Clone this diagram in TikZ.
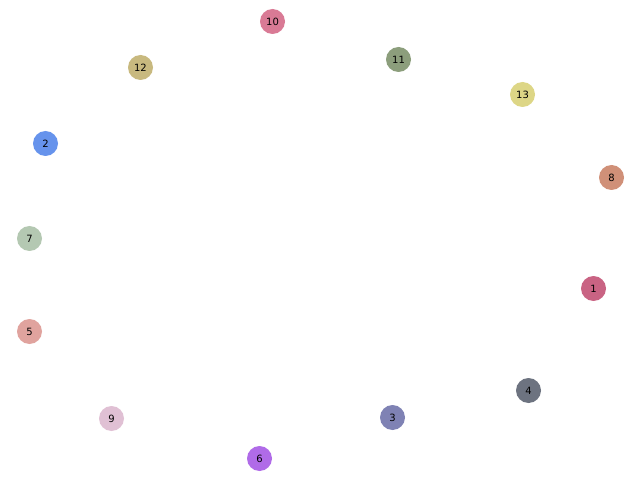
\documentclass[tikz,border=0pt]{standalone}
\usepackage{fontspec}
\setmainfont{DejaVu Sans}
\definecolor{c10}{HTML}{D97A95}
\definecolor{c12}{HTML}{C8B97F}
\definecolor{c11}{HTML}{8C9E7C}
\definecolor{c13}{HTML}{DDD686}
\definecolor{c2}{HTML}{6693EC}
\definecolor{c8}{HTML}{D09078}
\definecolor{c7}{HTML}{B4C8B2}
\definecolor{c1}{HTML}{C96383}
\definecolor{c5}{HTML}{E0A39E}
\definecolor{c4}{HTML}{6D7380}
\definecolor{c3}{HTML}{7F82B4}
\definecolor{c9}{HTML}{E0C0D4}
\definecolor{c6}{HTML}{B06BE8}
\tikzset{vtx/.style={circle,minimum size=25pt,inner sep=0pt,font=\fontsize{10}{11}\selectfont}}
\begin{document}
\begin{tikzpicture}[x=1pt,y=1pt]
\useasboundingbox (0,0) rectangle (640,480);
\node[vtx,fill=c10] (n10) at (272.5,458.5) {10};
\node[vtx,fill=c12] (n12) at (140.5,412.5) {12};
\node[vtx,fill=c11] (n11) at (398.5,420.5) {11};
\node[vtx,fill=c13] (n13) at (522.5,385.5) {13};
\node[vtx,fill=c2] (n2) at (45.5,336.5) {2};
\node[vtx,fill=c8] (n8) at (611.5,302.5) {8};
\node[vtx,fill=c7] (n7) at (29.5,241.5) {7};
\node[vtx,fill=c1] (n1) at (593.5,191.5) {1};
\node[vtx,fill=c5] (n5) at (29.5,148.5) {5};
\node[vtx,fill=c4] (n4) at (528.5,89.5) {4};
\node[vtx,fill=c3] (n3) at (392.5,62.5) {3};
\node[vtx,fill=c9] (n9) at (111.5,61.5) {9};
\node[vtx,fill=c6] (n6) at (259.5,21.5) {6};
\end{tikzpicture}
\end{document}
